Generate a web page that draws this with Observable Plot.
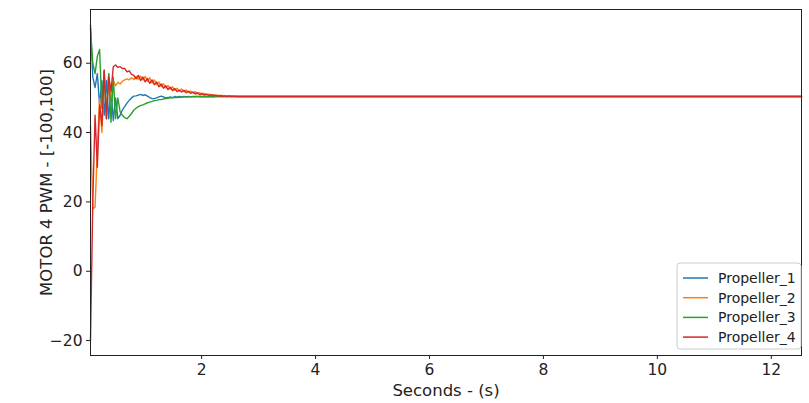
<!DOCTYPE html>
<html>
<head>
<meta charset="utf-8">
<script src="https://cdn.jsdelivr.net/npm/d3@7"></script>
<script src="https://cdn.jsdelivr.net/npm/@observablehq/plot@0.6"></script>
<style>
  html, body { margin: 0; padding: 0; background: #fff; }
  #chart { width: 809px; height: 403px; }
  svg { font-family: "DejaVu Sans", sans-serif; }
</style>
</head>
<body>
<div id="chart"></div>
<script>
// Time samples: dense grid for the transient (0.05 s start, 0.04 s step), then tail points
const tStart = 0.05, tStep = 0.04, nEarly = 75;
const tailTimes = [3.2, 4, 6, 8, 10, 12.53];

const seriesNames = ["Propeller_1", "Propeller_2", "Propeller_3", "Propeller_4"];
const seriesColors = ["#1f77b4", "#ff7f0e", "#2ca02c", "#d62728"];

const propeller1 = [
  71, 56, 53, 57, 48, 55, 45, 55, 44, 53,
  43.5, 50, 44, 45, 46.5, 47.5, 48.5, 49.3, 50, 50.5,
  50.6, 50.8, 51, 50.7, 50.9, 50.5, 50.1, 49.8, 49.8, 50,
  50.3, 50.5, 50.3, 50, 50.1, 50.3, 50.1, 50.4, 50.2, 50.4,
  50.2, 50.45, 50.25, 50.45, 50.3, 50.45, 50.3, 50.45, 50.3, 50.4,
  50.3, 50.4, 50.35, 50.4, 50.35, 50.4, 50.4, 50.4, 50.4, 50.4,
  50.4, 50.4, 50.4, 50.4, 50.4, 50.4, 50.4, 50.4, 50.4, 50.4,
  50.4, 50.4, 50.4, 50.4, 50.4,
  50.4, 50.4, 50.4, 50.4, 50.4, 50.4
];
const propeller2 = [
  42, 18, 18.5, 35, 50, 40, 56, 46, 57, 50,
  55, 53.5, 54.5, 54, 54.8, 55.2, 55.5, 55.2, 55.8, 55.3,
  56.2, 55.4, 56.3, 55.2, 56.2, 54.8, 55.8, 54.3, 55.2, 53.8,
  54.6, 53.3, 54.1, 52.9, 53.6, 52.5, 53.2, 52.2, 52.8, 51.9,
  52.6, 51.8, 52.3, 51.6, 52.0, 51.4, 51.8, 51.2, 51.5, 51.0,
  51.3, 50.9, 51.1, 50.75, 50.95, 50.65, 50.8, 50.55, 50.7, 50.5,
  50.6, 50.45, 50.55, 50.4, 50.5, 50.4, 50.45, 50.4, 50.4, 50.4,
  50.4, 50.4, 50.4, 50.4, 50.4,
  50.4, 50.4, 50.4, 50.4, 50.4, 50.4
];
const propeller3 = [
  70, 60, 57, 62, 64, 47, 58, 44, 57, 43,
  56, 44, 50, 46, 45, 44.3, 44, 44.7, 45.5, 46.5,
  47, 47.5, 47.8, 48, 48.3, 48.6, 48.8, 49, 49.2, 49.3,
  49.5, 49.5, 49.7, 49.8, 49.9, 50, 50, 50.1, 50.1, 50.2,
  50.2, 50.3, 50.3, 50.3, 50.35, 50.35, 50.4, 50.4, 50.4, 50.4,
  50.4, 50.4, 50.4, 50.4, 50.4, 50.4, 50.4, 50.4, 50.4, 50.4,
  50.4, 50.4, 50.4, 50.4, 50.4, 50.4, 50.4, 50.4, 50.4, 50.4,
  50.4, 50.4, 50.4, 50.4, 50.4,
  50.4, 50.4, 50.4, 50.4, 50.4, 50.4
];
const propeller4 = [
  -20, 20, 45, 30, 48, 42, 58, 44, 56, 52,
  59, 59.5, 58.8, 59, 58.5, 58.5, 57.5, 57.8, 56.8, 56.5,
  55.5, 56.5, 55, 56, 54.6, 55.6, 54.2, 55.2, 53.8, 54.6,
  53.2, 54, 52.8, 53.5, 52.4, 53.1, 52.1, 52.7, 51.8, 52.3,
  51.7, 52.2, 51.5, 51.9, 51.3, 51.7, 51.1, 51.5, 50.9, 51.3,
  50.8, 51.1, 50.7, 50.95, 50.6, 50.8, 50.5, 50.7, 50.45, 50.6,
  50.4, 50.55, 50.4, 50.5, 50.4, 50.45, 50.4, 50.4, 50.4, 50.4,
  50.4, 50.4, 50.4, 50.4, 50.4,
  50.4, 50.4, 50.4, 50.4, 50.4, 50.4
];

const xTicks = [2, 4, 6, 8, 10, 12];
const yTicks = [-20, 0, 20, 40, 60];

const times = d3.range(nEarly).map(i => +(tStart + i * tStep).toFixed(2)).concat(tailTimes);
const allSeries = [propeller1, propeller2, propeller3, propeller4];
const data = [];
allSeries.forEach((vals, k) => {
  const n = Math.min(vals.length, times.length);
  for (let i = 0; i < n; i++) data.push({t: times[i], v: vals[i], s: seriesNames[k]});
});

const W = 809, H = 403;
const mL = 90, mR = 8, mT = 9, mB = 48;

const chart = Plot.plot({
  width: W,
  height: H,
  marginLeft: mL,
  marginRight: mR,
  marginTop: mT,
  marginBottom: mB,
  style: {fontFamily: "DejaVu Sans, sans-serif", fontSize: "15px", color: "#222", background: "#fff"},
  x: {domain: [0.05, 12.53]},
  y: {domain: [-24.3, 75.5]},
  color: {domain: seriesNames, range: seriesColors},
  marks: [
    Plot.lineY(data, {x: "t", y: "v", stroke: "s", z: "s", strokeWidth: 1.4, curve: "linear"}),
    Plot.frame({stroke: "#222", strokeWidth: 1}),
    Plot.axisX({ticks: xTicks, tickSize: 4, tickPadding: 4, fontSize: 15.5,
      label: "Seconds - (s)", labelAnchor: "center", labelOffset: 40, labelArrow: "none"}),
    Plot.axisY({ticks: yTicks, tickSize: 4, tickPadding: 4, fontSize: 15.5,
      label: "MOTOR 4 PWM - [-100,100]", labelAnchor: "center", labelOffset: 50, labelArrow: "none"})
  ]
});
document.getElementById("chart").appendChild(chart);

// Legend (matplotlib-style, lower right inside the axes)
const svg = d3.select(chart);
svg.selectAll("[aria-label='x-axis label'] text, [aria-label='y-axis label'] text").style("font-size", "16.5px");
const lg = svg.append("g").attr("class", "legend").attr("text-anchor", "start");
const boxX = 677, boxY = 263, boxW = 124, boxH = 86;
lg.append("rect").attr("x", boxX).attr("y", boxY).attr("width", boxW).attr("height", boxH)
  .attr("rx", 3).attr("fill", "#fff").attr("fill-opacity", 0.85).attr("stroke", "#ccc");
seriesNames.forEach((name, k) => {
  const y = boxY + 15 + k * 19.7;
  lg.append("line").attr("x1", boxX + 6).attr("x2", boxX + 31).attr("y1", y).attr("y2", y)
    .attr("stroke", seriesColors[k]).attr("stroke-width", 1.5);
  lg.append("text").attr("x", boxX + 41).attr("y", y).attr("dy", "0.35em")
    .attr("text-anchor", "start").style("font-size", "14px").attr("fill", "#222").text(name);
});
</script>
</body>
</html>
